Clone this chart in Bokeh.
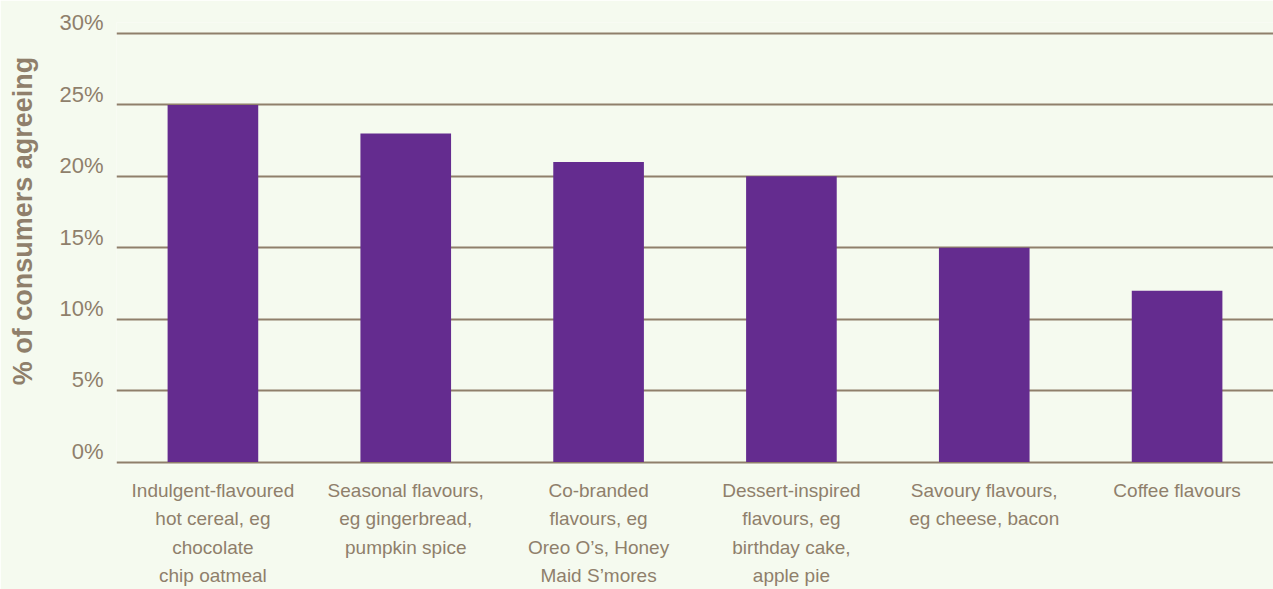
from bokeh.plotting import figure
from bokeh.models import FactorRange, FixedTicker, ColumnDataSource, Range1d, LinearAxis
from bokeh.embed import file_html
from bokeh.resources import INLINE

categories = [
    "Indulgent-flavoured\nhot cereal, eg\nchocolate\nchip oatmeal",
    "Seasonal flavours,\neg gingerbread,\npumpkin spice",
    "Co-branded\nflavours, eg\nOreo O\u2019s, Honey\nMaid S\u2019mores",
    "Dessert-inspired\nflavours, eg\nbirthday cake,\napple pie",
    "Savoury flavours,\neg cheese, bacon",
    "Coffee flavours",
]
values = [25, 23, 21, 20, 15, 12]
y_ticks = [0, 5, 10, 15, 20, 25, 30]
y_label = "% of consumers agreeing"

BG = "#F5FAEF"
BAR = "#642C8F"
TXT = "#8F7F6B"

src = ColumnDataSource(dict(x=categories, top=values))

Y0, Y1 = -0.17, 30.77
SHIFT = 0.75
p = figure(
    x_range=FactorRange(factors=categories),
    y_range=Range1d(Y0, Y1),
    width=1273, height=589,
    output_backend="svg", toolbar_location=None,
    min_border_left=116, min_border_right=0,
    min_border_top=22, min_border_bottom=121,
    background_fill_color=BG, border_fill_color=BG,
)
p.outline_line_color = None
p.extra_y_ranges = {"lab": Range1d(Y0 - SHIFT, Y1 - SHIFT)}

p.vbar(x="x", top="top", bottom=0, width=0.47, source=src, color=BAR, line_color=None)

p.xgrid.grid_line_color = None
p.ygrid.grid_line_color = TXT
p.ygrid.grid_line_width = 2
p.ygrid.level = "underlay"
p.yaxis.ticker = FixedTicker(ticks=y_ticks)
p.yaxis.visible = False

ax = LinearAxis(y_range_name="lab", ticker=FixedTicker(ticks=y_ticks))
ax.major_label_overrides = {t: "%d%%" % t for t in y_ticks}
ax.axis_line_color = None
ax.major_tick_line_color = None
ax.minor_tick_line_color = None
ax.major_label_text_font = "Liberation Sans"
ax.major_label_text_font_size = "22px"
ax.major_label_text_color = TXT
ax.major_label_standoff = 7
p.add_layout(ax, "left")

lax = LinearAxis(ticker=FixedTicker(ticks=[]))
# leading no-break spaces nudge the rotated title upward, as in the reference
lax.axis_label = "\u00a0" * 6 + y_label
lax.axis_label_text_font = "Liberation Sans"
lax.axis_label_text_font_style = "bold"
lax.axis_label_text_font_size = "27px"
lax.axis_label_text_color = TXT
lax.axis_label_standoff = 19
lax.axis_line_color = None
lax.major_tick_line_color = None
lax.minor_tick_line_color = None
lax.major_label_standoff = 0
p.add_layout(lax, "left")

p.xaxis.axis_line_color = None
p.xaxis.major_tick_line_color = None
p.xaxis.minor_tick_line_color = None
p.xaxis.major_label_text_font = "Liberation Sans"
p.xaxis.major_label_text_font_size = "19px"
p.xaxis.major_label_text_color = TXT
p.xaxis.major_label_text_line_height = 1.36
p.xaxis.major_label_standoff = 9

open("out.html", "w").write(file_html(p, INLINE))
